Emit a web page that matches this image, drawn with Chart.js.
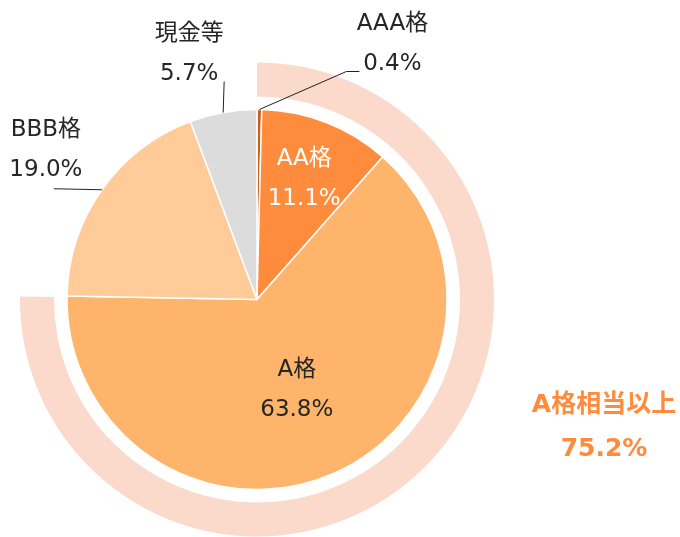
<!DOCTYPE html>
<html>
<head>
<meta charset="utf-8">
<script src="https://cdn.jsdelivr.net/npm/chart.js@4.4.1/dist/chart.umd.min.js"></script>
<style>
  html, body { margin: 0; padding: 0; background: #fff; }
</style>
</head>
<body>
<canvas id="myChart" width="680" height="537"></canvas>
<script>
// データ（12時方向から時計回り）
const categories = ['AAA格', 'AA格', 'A格', 'BBB格', '現金等'];
const shares = [0.4, 11.1, 63.8, 19.0, 5.7];
const sliceColors = ['#C9601A', '#FF8B3D', '#FFB46C', '#FFCB99', '#DCDCDC'];
const ringTitle = 'A格相当以上';
const ringShares = [75.2, 24.8];

// ラベルの配置（スライス外周中点からのずれ）
const labelStyle = [
    { outside: true, dx: 133, dy: -85, leader: [[87, -38], [100, -38]] },
    { outside: false, r: 0.68, color: '#fff' },
    { outside: false, r: 0.52 },
    { outside: true, dx: -56, dy: -60, leader: [[-48, -1]] },
    { outside: true, dx: -34, dy: -79, leader: [[1, -31]] }
];

const FONT = '"DejaVu Sans", "Noto Sans CJK JP", sans-serif';

const labelPlugin = {
    id: 'pieLabels',
    afterDatasetsDraw(chart) {
        const ctx = chart.ctx;
        const meta = chart.getDatasetMeta(2);
        ctx.save();
        ctx.textAlign = 'center';
        ctx.textBaseline = 'middle';
        ctx.font = '23px ' + FONT;
        meta.data.forEach((arc, i) => {
            const st = labelStyle[i];
            const mid = (arc.startAngle + arc.endAngle) / 2;
            const text1 = categories[i];
            const text2 = shares[i].toFixed(1) + '%';
            if (st.outside) {
                const ax = arc.x + Math.cos(mid) * arc.outerRadius;
                const ay = arc.y + Math.sin(mid) * arc.outerRadius;
                ctx.strokeStyle = '#222';
                ctx.lineWidth = 1;
                ctx.beginPath();
                ctx.moveTo(ax, ay);
                st.leader.forEach(p => ctx.lineTo(ax + p[0], ay + p[1]));
                ctx.stroke();
                ctx.fillStyle = '#262626';
                ctx.fillText(text1, ax + st.dx, ay + st.dy);
                ctx.fillText(text2, ax + st.dx, ay + st.dy + 40);
            } else {
                const x = arc.x + Math.cos(mid) * arc.outerRadius * st.r;
                const y = arc.y + Math.sin(mid) * arc.outerRadius * st.r;
                ctx.fillStyle = st.color || '#262626';
                ctx.fillText(text1, x, y - 20);
                ctx.fillText(text2, x, y + 20);
            }
        });
        // 外側リングの注記
        const ring = chart.getDatasetMeta(0).data[0];
        ctx.fillStyle = '#FF8B3D';
        ctx.font = 'bold 25px ' + FONT;
        ctx.fillText(ringTitle, ring.x + 347, ring.y + 106);
        ctx.fillText(ringShares[0].toFixed(1) + '%', ring.x + 347, ring.y + 150);
        ctx.restore();
    }
};

const ctx = document.getElementById('myChart').getContext('2d');
new Chart(ctx, {
    type: 'pie',
    data: {
        labels: categories,
        datasets: [
            {
                data: ringShares,
                backgroundColor: ['#FBD9CB', 'rgba(0,0,0,0)'],
                borderWidth: 0,
                weight: 34
            },
            {
                data: [1],
                backgroundColor: ['rgba(0,0,0,0)'],
                borderWidth: 0,
                weight: 13
            },
            {
                data: shares,
                backgroundColor: sliceColors,
                borderColor: '#fff',
                borderWidth: 1.5,
                weight: 190
            }
        ]
    },
    options: {
        responsive: false,
        animation: false,
        events: [],
        layout: { padding: { left: 20, top: 62, right: 186, bottom: 0 } },
        plugins: {
            legend: { display: false },
            tooltip: { enabled: false }
        }
    },
    plugins: [labelPlugin]
});
</script>
</body>
</html>
